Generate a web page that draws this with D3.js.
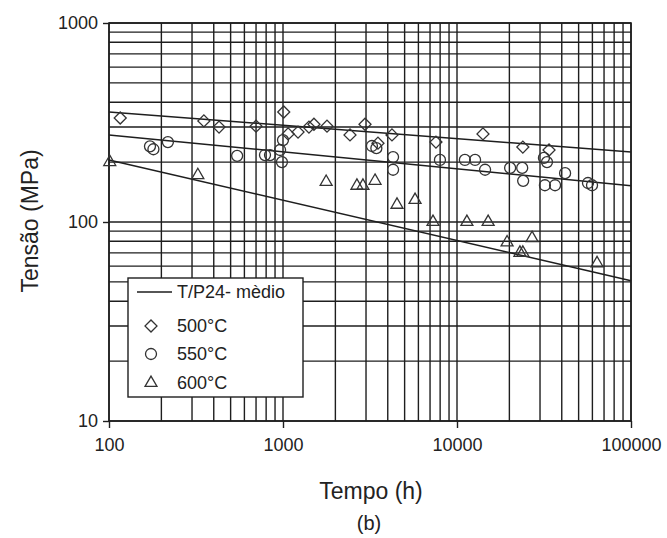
<!DOCTYPE html>
<html>
<head>
<meta charset="utf-8">
<script src="https://cdn.jsdelivr.net/npm/d3@7"></script>
<style>
  body { margin: 0; background: #fff; }
  text { font-family: "Liberation Sans", Arial, sans-serif; fill: #222; }
</style>
</head>
<body>
<svg id="chart" width="667" height="538"></svg>
<script>
// data (tempo h, tensao MPa)
const t500 = [116, 351, 429, 700, 1010, 1070, 1220, 1410, 1506, 1790, 2427, 2960, 3514, 4230, 7570, 14100, 23900, 33800];
const s500 = [333, 322, 300, 303, 357, 277, 283, 300, 310, 303, 274, 310, 249, 274, 252, 277, 238, 230];

const t550 = [172, 180, 218, 545, 788, 842, 962, 986, 1000, 3244, 3440, 4290, 4290, 7980, 11100, 12700, 14500, 20200, 23700, 24000, 31600, 32900, 32000, 36600, 41800, 56600, 59700];
const s550 = [240, 232, 252, 215, 217, 217, 230, 200, 258, 241, 235, 212, 183, 205, 205, 205, 183, 187, 187, 161, 210, 200, 153, 153, 176, 157, 153];

const t600 = [101, 324, 1770, 2660, 2880, 3380, 4520, 5740, 7280, 11400, 15100, 19400, 23000, 23900, 27000, 63800];
const s600 = [200, 172, 159, 152, 152, 161, 122, 129, 100, 100, 100, 79, 70, 70, 83, 62];

// mean lines (T/P24 - medio), endpoints at 100 h and 100000 h
const fitT = [100, 100000];
const fit500 = [357, 225];
const fit550 = [274, 152];
const fit600 = [205, 50.7];

const xTicks = [100, 1000, 10000, 100000];
const yTicks = [10, 100, 1000];
const legendLabels = ["T/P24- mèdio", "500°C", "550°C", "600°C"];

const svg = d3.select("#chart");
const ink = "#1e1e1e";

const x = d3.scaleLog().domain([100, 100000]).range([109, 631]);
const y = d3.scaleLog().domain([10, 1000]).range([421, 23]);

// grid
const g = svg.append("g");
g.selectAll(".vx").data(x.ticks())
  .enter().append("line")
  .attr("x1", d => x(d)).attr("x2", d => x(d))
  .attr("y1", y(1000)).attr("y2", y(10))
  .attr("stroke", ink).attr("stroke-width", 1.4);
g.selectAll(".hy").data(y.ticks())
  .enter().append("line")
  .attr("x1", x(100)).attr("x2", x(100000))
  .attr("y1", d => y(d)).attr("y2", d => y(d))
  .attr("stroke", ink).attr("stroke-width", 1.4);

g.append("rect")
  .attr("x", x(100)).attr("y", y(1000))
  .attr("width", x(100000) - x(100)).attr("height", y(10) - y(1000))
  .attr("fill", "none").attr("stroke", ink).attr("stroke-width", 1.6);

// axes
const xAxis = svg.append("g")
  .attr("transform", `translate(0,${y(10)})`)
  .call(d3.axisBottom(x).tickValues(xTicks).tickFormat(d3.format("d")).tickSize(7).tickPadding(10));
const yAxis = svg.append("g")
  .attr("transform", `translate(${x(100)},0)`)
  .call(d3.axisLeft(y).tickValues(yTicks).tickFormat(d3.format("d")).tickSize(6).tickPadding(5));
[xAxis, yAxis].forEach(a => {
  a.select(".domain").remove();
  a.selectAll(".tick line").attr("stroke", ink).attr("stroke-width", 1.4);
  a.selectAll(".tick text").attr("font-size", 18).style("font-family", "Liberation Sans, Arial, sans-serif").attr("fill", "#222");
});

// fit lines
const line = d3.line().x(d => x(d[0])).y(d => y(d[1]));
[fit500, fit550, fit600].forEach(f => {
  svg.append("path")
    .datum(d3.zip(fitT, f))
    .attr("d", line)
    .attr("fill", "none").attr("stroke", ink).attr("stroke-width", 1.5);
});

// markers
const diamond = d3.symbol().type(d3.symbolSquare).size(72);
const circle = d3.symbol().type(d3.symbolCircle).size(95);
const triangle = d3.symbol().type(d3.symbolTriangle).size(62);

function plotSeries(ts, ss, sym, rot) {
  svg.append("g").selectAll("path")
    .data(d3.zip(ts, ss))
    .enter().append("path")
    .attr("d", sym)
    .attr("transform", d => `translate(${x(d[0])},${y(d[1])}) rotate(${rot})`)
    .attr("fill", "none").attr("stroke", "#333").attr("stroke-width", 1.3);
}
plotSeries(t500, s500, diamond, 45);
plotSeries(t550, s550, circle, 0);
plotSeries(t600, s600, triangle, 0);

// legend
const lg = svg.append("g");
lg.append("rect").attr("x", 128).attr("y", 278).attr("width", 175).attr("height", 119)
  .attr("fill", "#fff").attr("stroke", ink).attr("stroke-width", 1.4);
lg.append("line").attr("x1", 137).attr("x2", 172).attr("y1", 292).attr("y2", 292)
  .attr("stroke", ink).attr("stroke-width", 1.4);
const legSyms = [null, [diamond, 45], [circle, 0], [triangle, 0]];
const legY = [298, 332, 360, 389];
legendLabels.forEach((lab, i) => {
  lg.append("text").attr("x", 177).attr("y", legY[i]).attr("font-size", 18).text(lab);
  if (legSyms[i]) {
    lg.append("path").attr("d", legSyms[i][0])
      .attr("transform", `translate(151,${legY[i] - 6}) rotate(${legSyms[i][1]})`)
      .attr("fill", "none").attr("stroke", "#333").attr("stroke-width", 1.3);
  }
});

// axis titles
svg.append("text").attr("x", 371).attr("y", 499).attr("text-anchor", "middle")
  .attr("font-size", 23).text("Tempo (h)");
svg.append("text").attr("transform", "translate(38,221) rotate(-90)").attr("text-anchor", "middle")
  .attr("font-size", 23).text("Tensão (MPa)");
svg.append("text").attr("x", 369).attr("y", 530).attr("text-anchor", "middle")
  .attr("font-size", 20).text("(b)");
</script>
</body>
</html>
